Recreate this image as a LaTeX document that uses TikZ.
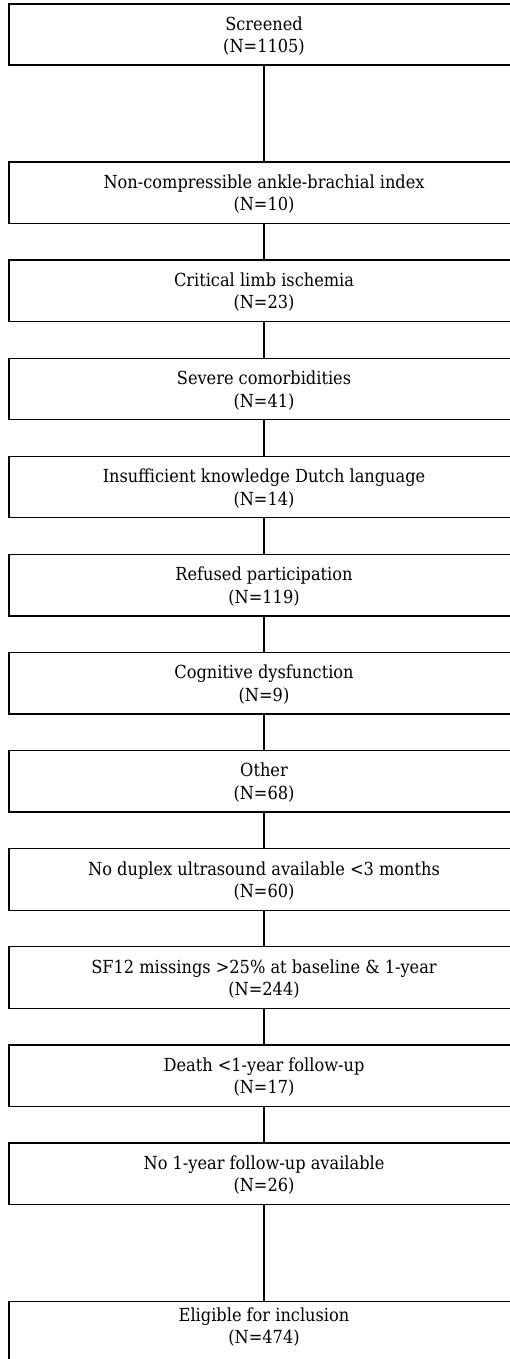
\documentclass[tikz,border=0pt]{standalone}
\usepackage{fontspec}
\setmainfont{DejaVu Serif Condensed}
\usetikzlibrary{positioning}

\begin{document}
\begin{tikzpicture}[x=1pt,y=1pt,node distance=35.3pt,
  stage/.style={draw,line width=1.3pt,minimum width=510pt,minimum height=61.5pt,
    inner sep=0pt,align=center,text depth=-4pt,font=\fontsize{18}{22.5}\selectfont},
  link/.style={line width=1.3pt}]
\useasboundingbox (0,0) rectangle (510,-1359);
\clip (0,0) rectangle (510,-1359);
\node[stage,minimum height=61pt] (scr) at (264,-34.5) {Screened\\(N=1105)};
\node[stage,below=95.7pt of scr] (abi) {Non-compressible ankle-brachial index\\(N=10)};
\node[stage,below=of abi] (cli) {Critical limb ischemia\\(N=23)};
\node[stage,below=of cli] (comorb) {Severe comorbidities\\(N=41)};
\node[stage,below=of comorb] (dutch) {Insufficient knowledge Dutch language\\(N=14)};
\node[stage,below=of dutch] (refused) {Refused participation\\(N=119)};
\node[stage,below=of refused] (cogn) {Cognitive dysfunction\\(N=9)};
\node[stage,below=of cogn] (other) {Other\\(N=68)};
\node[stage,below=of other] (duplex) {No duplex ultrasound available <3 months\\(N=60)};
\node[stage,below=of duplex] (sf) {SF12 missings >25\% at baseline \& 1-year\\(N=244)};
\node[stage,below=of sf] (death) {Death <1-year follow-up\\(N=17)};
\node[stage,below=of death] (nofu) {No 1-year follow-up available\\(N=26)};
\node[stage,below=95.7pt of nofu,minimum height=0pt,inner ysep=6pt,text depth=40pt] (incl) {Eligible for inclusion\\(N=474)};
\draw[link] (scr) -- (abi);
\draw[link] (abi) -- (cli);
\draw[link] (cli) -- (comorb);
\draw[link] (comorb) -- (dutch);
\draw[link] (dutch) -- (refused);
\draw[link] (refused) -- (cogn);
\draw[link] (cogn) -- (other);
\draw[link] (other) -- (duplex);
\draw[link] (duplex) -- (sf);
\draw[link] (sf) -- (death);
\draw[link] (death) -- (nofu);
\draw[link] (nofu) -- (incl);
\end{tikzpicture}
\end{document}
